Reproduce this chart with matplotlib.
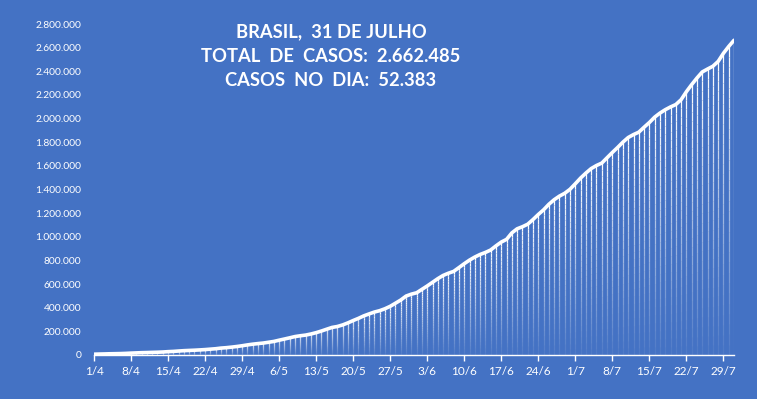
import numpy as np
import pandas as pd
import matplotlib
matplotlib.use("Agg")
import matplotlib.pyplot as plt
from matplotlib.collections import LineCollection

# Cumulative confirmed cases in Brazil, 1 April to 31 July
dates = pd.date_range("2020-04-01", "2020-07-31", freq="D")
cases = [
    6836, 8044, 9056, 10360, 11130, 12056, 13717, 15927, 17857, 19638,
    20727, 22169, 23430, 25262, 28320, 30425, 33682, 36599, 38654, 40581,
    43079, 45757, 49492, 52995, 58509, 61888, 66501, 71886, 78162, 85380,
    91589, 96559, 101147, 107780, 114715, 125218, 135106, 145328, 155939, 162699,
    168331, 177589, 188974, 202918, 218223, 233142, 241080, 254220, 271628, 291579,
    310087, 330890, 347398, 363211, 374898, 391222, 411821, 438238, 465166, 498440,
    514849, 526447, 555383, 584016, 614941, 645771, 672846, 691758, 707412, 739503,
    772416, 802828, 828810, 850514, 867624, 888271, 923189, 955377, 978142, 1032913,
    1067579, 1085038, 1106470, 1145906, 1188631, 1228114, 1274974, 1313667, 1344143, 1368195,
    1402041, 1448753, 1496858, 1539081, 1577004, 1603055, 1623284, 1668589, 1713160, 1755779,
    1800827, 1839850, 1864681, 1884967, 1926824, 1966748, 2012151, 2046328, 2074860, 2098389,
    2118646, 2159654, 2227514, 2287475, 2343366, 2394513, 2419091, 2442375, 2483191, 2552265,
    2610102, 2662485,
]
title_lines = ["BRASIL,  31 DE JULHO", "TOTAL  DE  CASOS:  2.662.485", "CASOS  NO  DIA:  52.383"]

bg = "#4472C4"
plt.rcParams["font.family"] = ["Lato", "DejaVu Sans"]

fig = plt.figure(figsize=(7.57, 3.99), dpi=100, facecolor=bg)
ax = fig.add_axes([94 / 757, 44 / 399, 640 / 757, 331 / 399])
ax.set_facecolor(bg)

x = np.arange(len(cases))
y = np.array(cases, dtype=float)

# thin drop lines fading towards the bottom
n_seg = 30
segs, cols = [], []
for xi, yi in zip(x, y):
    edges = np.linspace(0, yi, n_seg + 1)
    for k in range(n_seg):
        segs.append([(xi, edges[k]), (xi, edges[k + 1])])
        cols.append((1, 1, 1, 0.05 + 0.95 * (k + 0.5) / n_seg))
ax.add_collection(LineCollection(segs, colors=cols, linewidths=0.9, zorder=2))

ax.plot(x, y, color="white", lw=2.6, solid_capstyle="round", zorder=3)

ax.set_xlim(0, len(cases) - 1)
ax.set_ylim(0, 2800000)

tick_idx = np.arange(0, len(cases), 7)
ax.set_xticks(tick_idx)
ax.set_xticklabels([f"{dates[i].day}/{dates[i].month}" for i in tick_idx])
yt = np.arange(0, 2800001, 200000)
ax.set_yticks(yt)
ax.set_yticklabels([f"{v:,}".replace(",", ".") for v in yt])

for s in ["top", "right", "left"]:
    ax.spines[s].set_visible(False)
ax.spines["bottom"].set_color("white")
ax.spines["bottom"].set_linewidth(1.0)
ax.tick_params(axis="x", colors="white", length=4, width=1, labelsize=8.5, pad=4)
ax.tick_params(axis="y", colors="white", length=0, labelsize=7.4, pad=9)

for i, line in enumerate(title_lines):
    fig.text(331 / 757, 1 - (32 + 24 * i) / 399, line, ha="center", va="center",
             color="white", fontsize=13.2, fontweight="bold")

fig.savefig("out.png", dpi=100, facecolor=bg)
